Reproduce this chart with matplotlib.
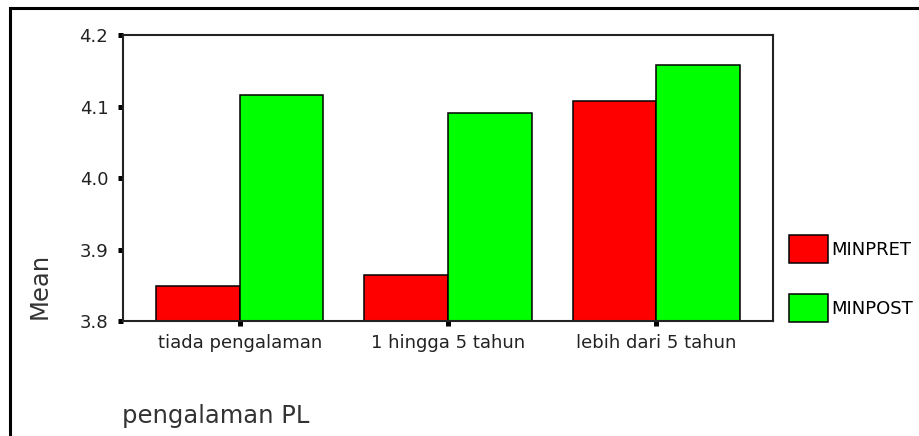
import numpy as np
import matplotlib
matplotlib.use('Agg')
import matplotlib.pyplot as plt
from matplotlib.patches import Rectangle

plt.rcParams['font.family'] = ['DejaVu Sans']

categories = ['tiada pengalaman', '1 hingga 5 tahun', 'lebih dari 5 tahun']
minpret = [3.849, 3.864, 4.108]
minpost = [4.116, 4.091, 4.158]
series_names = ['MINPRET', 'MINPOST']
y_ticks = [3.8, 3.9, 4.0, 4.1, 4.2]

W, H = 920, 436
fig = plt.figure(figsize=(W / 100, H / 100), dpi=100)
fig.patch.set_facecolor('white')
ax = fig.add_axes([123 / W, 1 - 321 / H, 650 / W, 286 / H])

x = np.arange(len(categories))
bw = 0.402
ax.bar(x - bw / 2, minpret, bw, bottom=0, color='#ff0000', edgecolor='black',
       linewidth=1.1, label=series_names[0], zorder=2)
ax.bar(x + bw / 2, minpost, bw, bottom=0, color='#00ff00', edgecolor='black',
       linewidth=1.1, label=series_names[1], zorder=2)

ax.set_ylim(3.8, 4.2)
ax.set_xlim(-0.56, 2.56)
ax.set_yticks(y_ticks)
ax.set_yticklabels(['%.1f' % v for v in y_ticks])
ax.set_xticks(x)
ax.set_xticklabels(categories)
ax.tick_params(axis='both', direction='out', length=3.6, width=3.6,
               color='black', labelsize=13, labelcolor='#222222')
ax.tick_params(axis='y', pad=7)
ax.tick_params(axis='x', pad=6)
for s in ax.spines.values():
    s.set_color('#222222')
    s.set_linewidth(1.5)
    s.set_zorder(3)

fig.text(40 / W, 1 - 286 / H, 'Mean', fontsize=17.5, color='#333333',
         rotation=90, ha='center', va='center')
fig.text(122 / W, 1 - 423 / H, 'pengalaman PL', fontsize=17.5, color='#333333',
         ha='left', va='baseline')

fig.legend(loc='upper left', bbox_to_anchor=(789 / W, 1 - 235 / H),
           frameon=False, fontsize=13, handlelength=2.16, handleheight=2.0,
           labelspacing=1.75, handletextpad=0.2, borderpad=0, borderaxespad=0)

# outer frame
fig.patches.append(Rectangle((10.5 / W, -0.2), 1.2, 1.2 - 7.5 / H, fill=False,
                             edgecolor='black', linewidth=2.2,
                             transform=fig.transFigure, figure=fig))

fig.savefig('out.png', dpi=100)
